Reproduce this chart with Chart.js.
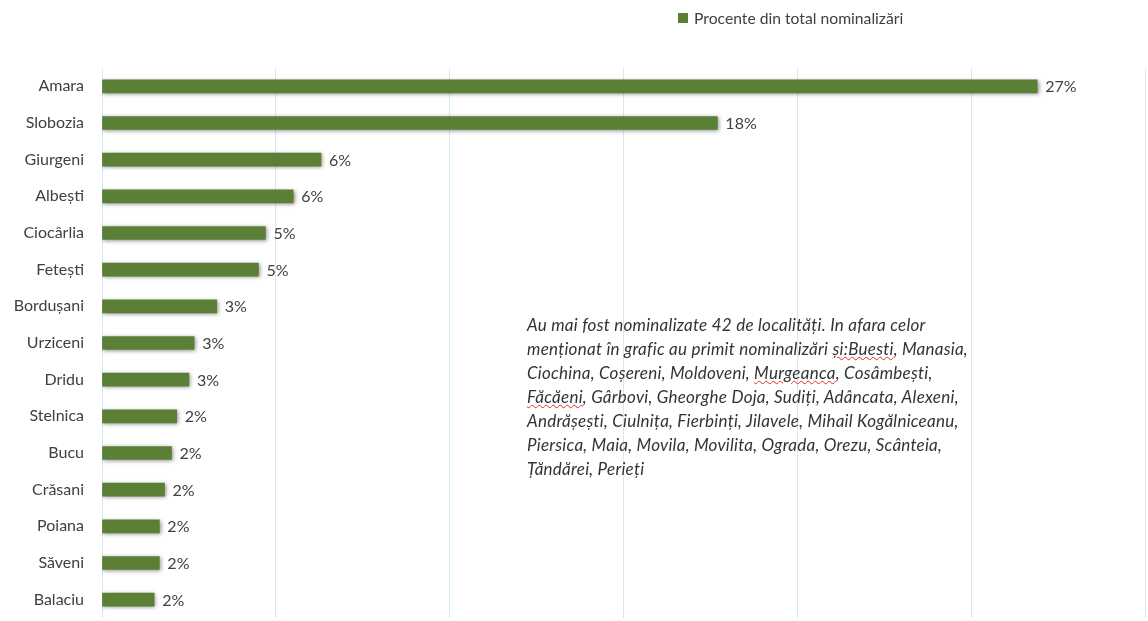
<!DOCTYPE html>
<html lang="ro">
<head>
<meta charset="utf-8">
<title>Procente din total nominalizări</title>
<script src="https://cdn.jsdelivr.net/npm/chart.js@4/dist/chart.umd.min.js"></script>
<style>
    html, body { margin: 0; padding: 0; background: #fff; }
    #wrap { position: relative; width: 1148px; height: 621px; }
    #legend {
        position: absolute; left: 678px; top: 9px;
        font: 15.7px Lato, "Open Sans", sans-serif; color: #404040;
        display: flex; align-items: center; white-space: nowrap;
    }
    #legend span.box { width: 10px; height: 10px; background: #5b7f35; margin-right: 6px; display: inline-block; }
    #nota {
        position: absolute; left: 527px; top: 313px;
        font: italic 17px Lato, "Open Sans", sans-serif; color: #333;
        letter-spacing: 0.25px;
        line-height: 24px; white-space: nowrap;
    }
    .sp { text-decoration: underline wavy #e03030; text-decoration-thickness: 1px; }
</style>
</head>
<body>
<div id="wrap">
    <canvas id="nominalizariChart" width="1148" height="621"></canvas>
    <div id="legend"><span class="box"></span>Procente din total nominalizări</div>
    <div id="nota">
        Au mai fost nominalizate 42 de localități. In afara celor<br>
        menționat în grafic au primit nominalizări <span class="sp">și:Buesti</span>, Manasia,<br>
        Ciochina, Coșereni, Moldoveni, <span class="sp">Murgeanca</span>, Cosâmbești,<br>
        <span class="sp">Făcăeni</span>, Gârbovi, Gheorghe Doja, Sudiți, Adâncata, Alexeni,<br>
        Andrășești, Ciulnița, Fierbinți, Jilavele, Mihail Kogălniceanu,<br>
        Piersica, Maia, Movila, Movilita, Ograda, Orezu, Scânteia,<br>
        Țăndărei, Perieți
    </div>
</div>
<script>
// Localitățile și procentele
const localitati = ['Amara', 'Slobozia', 'Giurgeni', 'Albești', 'Ciocârlia', 'Fetești', 'Bordușani',
    'Urziceni', 'Dridu', 'Stelnica', 'Bucu', 'Crăsani', 'Poiana', 'Săveni', 'Balaciu'];
const procente = [26.9, 17.7, 6.3, 5.5, 4.7, 4.5, 3.3, 2.65, 2.5, 2.15, 2.0, 1.8, 1.65, 1.65, 1.5];
const gradatiiX = [0, 5, 10, 15, 20, 25, 30];

const verde = '#5b7f35';
const textColor = '#404040';
const fontFamily = 'Lato, "Open Sans", sans-serif';

// Umbra sub bare + etichetele cu procente
const umbraBare = {
    id: 'umbraBare',
    beforeDatasetsDraw(chart) {
        const ctx = chart.ctx;
        ctx.save();
        ctx.shadowColor = 'rgba(0,0,0,0.45)';
        ctx.shadowBlur = 4;
        ctx.shadowOffsetX = 1;
        ctx.shadowOffsetY = 1;
    },
    afterDatasetsDraw(chart) {
        const ctx = chart.ctx;
        ctx.restore();
        const meta = chart.getDatasetMeta(0);
        ctx.save();
        ctx.font = '16px ' + fontFamily;
        ctx.fillStyle = textColor;
        ctx.textAlign = 'left';
        ctx.textBaseline = 'middle';
        meta.data.forEach((bar, i) => {
            ctx.fillText(Math.round(procente[i]) + '%', bar.x + 8, bar.y + 1);
        });
        ctx.restore();
    }
};

const nominalizariChart = new Chart(document.getElementById('nominalizariChart'), {
    type: 'bar',
    data: {
        labels: localitati,
        datasets: [{
            label: 'Procente din total nominalizări',
            data: procente,
            backgroundColor: verde,
            barThickness: 13
        }]
    },
    options: {
        indexAxis: 'y',
        responsive: false,
        animation: false,
        layout: { padding: { top: 68, bottom: 3, right: 3, left: 0 } },
        plugins: {
            legend: { display: false },
            tooltip: { enabled: false }
        },
        scales: {
            x: {
                min: 0,
                max: 30,
                afterBuildTicks(scale) { scale.ticks = gradatiiX.map(v => ({ value: v })); },
                afterFit(scale) { scale.height = 0; },
                ticks: { display: false },
                grid: { color: '#d2eaf2', drawTicks: false, lineWidth: 1 },
                border: { display: false }
            },
            y: {
                afterFit(scale) {
                    scale.width = 102;
                    scale.paddingTop = 0;
                    scale.paddingBottom = 0;
                },
                ticks: {
                    padding: 18,
                    color: textColor,
                    font: { family: fontFamily, size: 16 }
                },
                grid: { display: false, drawTicks: false },
                border: { display: false }
            }
        }
    },
    plugins: [umbraBare]
});
</script>
</body>
</html>
